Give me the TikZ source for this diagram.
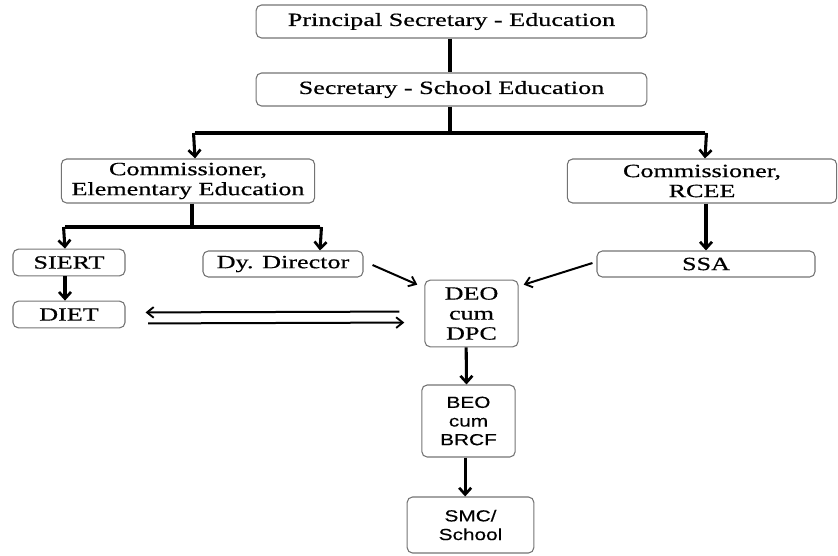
\documentclass[tikz,border=0pt]{standalone}
\usepackage{fontspec}
\usetikzlibrary{arrows.meta}
\newfontfamily\boxserif{Liberation Serif}[FakeStretch=1.4,FakeBold=0.6]
\newfontfamily\boxsans{Liberation Sans}[FakeStretch=1.3,FakeBold=0.4]

\begin{document}
\begin{tikzpicture}[x=0.75pt,y=-0.75pt,
    box/.style={draw=black!55, line width=0.8pt, rounded corners=4pt, inner sep=0pt, align=center,
        font=\boxserif\fontsize{14}{15}\selectfont},
    sansbox/.style={box, font=\boxsans\fontsize{12}{14}\selectfont},
    link/.style={line width=2.3pt, -{Straight Barb[length=5pt,width=9pt,line width=2pt]}},
    plain/.style={line width=2.3pt},
    slant/.style={line width=1.5pt, -{Straight Barb[length=5pt,width=8pt,line width=1.4pt]}}]
    \useasboundingbox (0,0) rectangle (838,556);
    \node[box, minimum width=293pt, minimum height=24.75pt] (ps) at (451.5,21.5) {Principal Secretary - Education};
    \node[box, minimum width=293pt, minimum height=24.75pt] (sse) at (451.5,89.5) {Secretary - School Education};
    \node[box, minimum width=190pt, minimum height=33pt] (ce) at (188,181) {Commissioner,\\Elementary Education};
    \node[box, minimum width=202pt, minimum height=33pt] (cr) at (702,181) {Commissioner,\\RCEE};
    \node[box, minimum width=84pt, minimum height=20pt] (siert) at (69,262.5) {SIERT};
    \node[box, minimum width=120pt, minimum height=19.5pt] (dyd) at (283,264) {Dy. Director};
    \node[box, minimum width=84pt, minimum height=20pt] (diet) at (69,314.5) {DIET};
    \node[box, minimum width=163.5pt, minimum height=19.5pt] (ssa) at (706,264) {SSA};
    \node[box, minimum width=70pt, minimum height=50pt] (deo) at (471.5,313.5) {DEO\\cum\\DPC};
    \node[sansbox, minimum width=70pt, minimum height=54pt] (beo) at (468.5,421) {BEO\\cum\\BRCF};
    \node[sansbox, minimum width=95pt, minimum height=42pt] (smc) at (470.5,525) {SMC/\\School};
    \coordinate (top) at (450,133);
    \coordinate (topl) at (195,133);
    \coordinate (topr) at (705,133);
    \coordinate (mid) at (192,227);
    \coordinate (midl) at (65,227);
    \coordinate (midr) at (320,227);
    \draw[plain] (ps.south -| top) -- (sse.north -| top);
    \draw[plain] (sse.south -| top) -- (top);
    \draw[plain] (topl) -- (topr);
    \draw[link] ([xshift=-1.1pt]topl) -- (topl |- ce.north);
    \draw[link] ([xshift=1.1pt]topr) -- (topr |- cr.north);
    \draw[plain] (ce.south -| mid) -- (mid);
    \draw[plain] (midl) -- (midr);
    \draw[link] ([xshift=-1.1pt]midl) -- (midl |- siert.north);
    \draw[link] ([xshift=1.1pt]midr) -- (midr |- dyd.north);
    \draw[link] (siert.south -| midl) -- (diet.north -| midl);
    \draw[link] (cr.south -| ssa.north) -- (ssa.north);
    \draw[slant] ([xshift=6.75pt,yshift=-0.75pt]dyd.east) -- ([xshift=-5.25pt,yshift=-3.75pt]deo.north west);
    \draw[slant] ([xshift=-3pt,yshift=0.75pt]ssa.west) -- ([xshift=3.75pt,yshift=-3.75pt]deo.north east);
    \draw[slant, shorten <=18.75pt, shorten >=15pt] ([yshift=1.5pt]deo.west) -- ([yshift=1.5pt]diet.east);
    \draw[slant, shorten <=17pt, shorten >=15pt] ([yshift=-6.75pt]diet.east) -- ([yshift=-6.75pt]deo.west);
    \draw[link] ([xshift=-4pt]deo.south) -- ([xshift=-1.5pt]beo.north);
    \draw[link] ([xshift=-2.5pt]beo.south) -- ([xshift=-4pt]smc.north);
\end{tikzpicture}
\end{document}
